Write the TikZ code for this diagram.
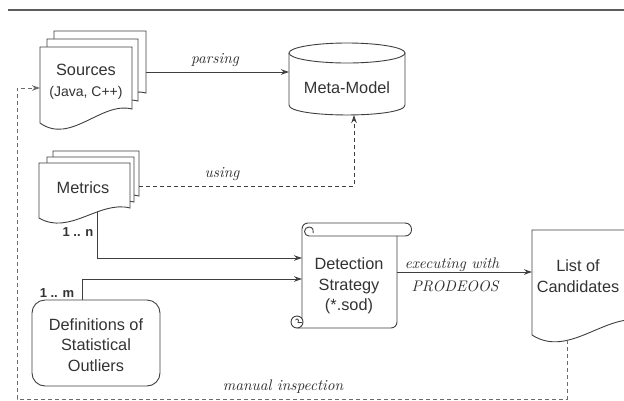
\documentclass[tikz,border=0pt]{standalone}
\usepackage{fontspec}
\newfontfamily\sansfam{Liberation Sans}
\newfontfamily\lblfont{lmroman10-italic.otf}
\usetikzlibrary{calc,arrows.meta}
\definecolor{ink}{HTML}{333333}
\definecolor{linec}{HTML}{3F3F3F}
\definecolor{dashc}{HTML}{6A6A6A}
\newcommand\docpath[3]{%
 \draw[shp] (#1.north west) -- (#1.north east) -- ($(#1.south east)+(0,-#2)$)
 .. controls ($(#1.south west)!0.667!(#1.south east)+(0,-#3)$) and ($(#1.south west)!0.333!(#1.south east)+(0,#3)$) .. (#1.south west) -- cycle;}
\begin{document}
\begin{tikzpicture}[x=1pt,y=-1pt,
  txt/.style={font=\sansfam\fontsize{16.3}{20.5}\selectfont, text=ink, align=center, inner sep=0pt},
  lbl/.style={font=\lblfont\fontsize{15.3}{18}\selectfont, text=ink!90!black, inner sep=0pt},
  mult/.style={font=\sansfam\bfseries\fontsize{13}{15}\selectfont, text=ink, inner sep=0pt},
  ghost/.style={inner sep=0pt, outer sep=0pt},
  shp/.style={draw=linec, fill=white, line width=0.9pt},
  conn/.style={draw=linec, line width=0.9pt, -{Stealth[length=8pt,width=5.5pt]}},
  dconn/.style={conn, dash pattern=on 4pt off 3pt}]
\useasboundingbox (0,0) rectangle (624,400);
\draw[draw=linec!85, line width=1.3pt] (8,10) -- (624,10);

% Sources stack
\node[ghost, anchor=north west, minimum width=92pt, minimum height=76pt] (srcC) at (54,31) {};
\node[ghost, anchor=north west, minimum width=91pt, minimum height=76pt] (srcB) at (47,39) {};
\node[ghost, anchor=north west, minimum width=92pt, minimum height=76pt] (src) at (40,47) {};
\docpath{srcC}{14}{22}
\docpath{srcB}{14}{22}
\docpath{src}{14}{22}
\node[txt] (srct) at (86,82) {Sources\\{\fontsize{14}{17}\selectfont(Java, C++)}};

% Meta-Model
\node[ghost, minimum width=116pt, minimum height=72pt] (mm) at (347,79) {};
\draw[shp] (289,53) -- (289,105) .. controls (289,118.3) and (405,118.3) .. (405,105) -- (405,53);
\draw[shp] (347,53) ellipse [x radius=58pt, y radius=10pt];
\node[txt] (mmt) at (347,88) {Meta-Model};

% Metrics stack
\node[ghost, anchor=north west, minimum width=86pt, minimum height=55pt] (metC) at (53,151) {};
\node[ghost, anchor=north west, minimum width=87pt, minimum height=55pt] (metB) at (47,157) {};
\node[ghost, anchor=north west, minimum width=91pt, minimum height=55pt] (met) at (39,163) {};
\docpath{metC}{10}{18}
\docpath{metB}{10}{18}
\docpath{met}{10}{18}
\node[txt] (mett) at (83,188) {Metrics};

% Definitions
\node[ghost, draw=linec, line width=0.9pt, rounded corners=13pt, minimum width=128pt, minimum height=86pt] (def) at (96,343) {};
\node[txt] (deft) at (96,345) {Definitions of\\Statistical\\Outliers};

% Detection Strategy (scroll)
\node[ghost, minimum width=95pt, minimum height=105pt] (ds) at (349.5,275.5) {};
\draw[linec, line width=0.9pt, rounded corners=6pt] (302,322) -- (302,223) -- (405,223);
\draw[linec, line width=0.9pt] (405,223) .. controls (413.7,223) and (413.7,236) .. (405,236) -- (309,236);
\draw[linec, line width=0.9pt] (309,236) arc[start angle=-90, end angle=-380, radius=4.5pt];
\draw[linec, line width=0.9pt, rounded corners=6pt] (297,328) -- (397,328) -- (397,236);
\draw[shp] (297,322) circle[radius=6pt];
\draw[linec, line width=0.8pt] (295.5,320) .. controls (297,318) and (299.5,319) .. (298,322.5) -- (302,322.5);
\node[txt] (dst) at (349,286) {Detection\\Strategy\\(*.sod)};

% List of Candidates
\node[ghost, anchor=north west, minimum width=112pt, minimum height=105pt] (loc) at (532,230) {};
\docpath{loc}{14}{24}
\node[txt] (loct) at (578,276) {List of\\Candidates};

% connectors
\coordinate (metb) at (97,212);
\coordinate (locb) at (567,340);
\draw[conn] (srcC.east |- 0,72) -- (mm.west |- 0,72);
\draw[dconn] (metC.east |- 0,186) -| (mm.south -| 354,0);
\draw[conn] (metb) |- (ds.west |- 0,258);
\draw[conn] (def.north -| 82,0) |- (ds.west |- 0,279);
\draw[conn] (ds.east |- 0,272) -- (loc.west |- 0,272);
\draw[dconn, draw=dashc] (locb) -- (567,399) -| (17,88) -- (src.west |- 0,88);

% labels
\node[lbl] (lparse) at (215,60) {parsing};
\node[lbl] (luse) at (222,174) {using};
\node[lbl, anchor=base] (lexec) at (452,268) {executing with};
\node[lbl] (lprod) at (455,286) {PRODEOOS};
\node[lbl] (lman) at (283,387) {manual inspection};
\node[mult] (ln) at (78,232) {1 .. n};
\node[mult] (lm) at (57,293) {1 .. m};
\end{tikzpicture}
\end{document}
